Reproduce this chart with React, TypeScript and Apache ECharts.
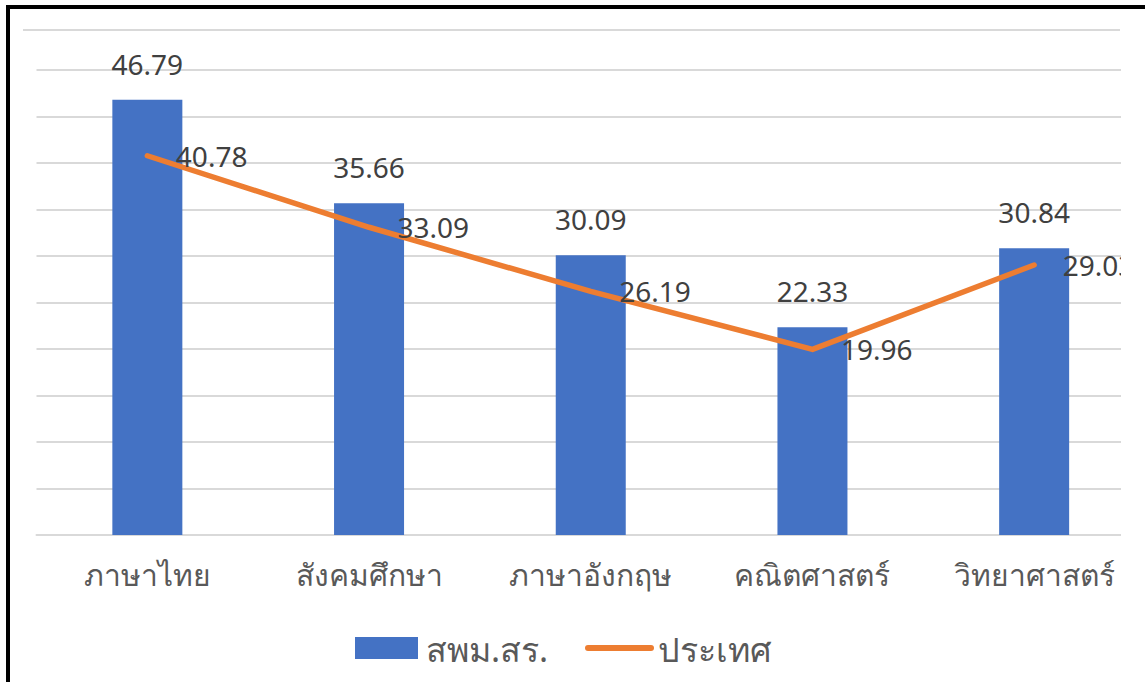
import React, { useEffect, useRef } from "react";
import * as echarts from "echarts";

const categories = ["ภาษาไทย", "สังคมศึกษา", "ภาษาอังกฤษ", "คณิตศาสตร์", "วิทยาศาสตร์"];
const schoolValues = [46.79, 35.66, 30.09, 22.33, 30.84];
const countryValues = [40.78, 33.09, 26.19, 19.96, 29.03];
const seriesNames = ["สพม.สร.", "ประเทศ"];

const FONT = "'Noto Sans', 'DejaVu Sans', sans-serif";
const TXT = "#404040";
const BLUE = "#4472C4";
const ORANGE = "#ED7D31";

export default function App() {
  const ref = useRef<HTMLDivElement>(null);
  useEffect(() => {
    document.body.style.margin = "0";
    const chart = echarts.init(ref.current!, null, { renderer: "svg" });
    chart.setOption({
      animation: false,
      backgroundColor: "#ffffff",
      textStyle: { fontFamily: FONT },
      grid: { left: 36.5, top: 70, width: 1115, height: 465, containLabel: false },
      xAxis: {
        type: "category",
        data: categories,
        axisLine: { lineStyle: { color: "#d9d9d9", width: 2 } },
        axisTick: { show: false },
        axisLabel: { color: "#595959", fontSize: 30, margin: 24, fontFamily: FONT },
      },
      yAxis: {
        type: "value",
        min: 0,
        max: 50,
        interval: 5,
        axisLabel: { show: false },
        axisLine: { show: false },
        axisTick: { show: false },
        splitLine: { lineStyle: { color: "#d9d9d9", width: 2 } },
      },
      legend: { show: false },
      series: [
        {
          name: seriesNames[0],
          type: "bar",
          data: schoolValues,
          barWidth: 70,
          itemStyle: { color: BLUE },
          label: {
            show: true,
            position: "top",
            distance: 22,
            color: TXT,
            fontSize: 28,
            fontFamily: FONT,
          },
          z: 2,
        },
        {
          name: seriesNames[1],
          type: "line",
          data: countryValues,
          symbol: "circle",
          symbolSize: 1,
          showSymbol: true,
          lineStyle: { color: ORANGE, width: 5.5, cap: "round", join: "round" },
          itemStyle: { color: "rgba(0,0,0,0)", borderWidth: 0 },
          label: {
            show: true,
            position: "right",
            distance: 28,
            color: TXT,
            fontSize: 28,
            fontFamily: FONT,
          },
          z: 3,
        },
      ],
      graphic: [
        { type: "rect", z: 100, shape: { x: 1121, y: 12, width: 40, height: 600 }, style: { fill: "#ffffff" } },
        { type: "line", z: 1, shape: { x1: 23, y1: 30, x2: 1120, y2: 30 }, style: { stroke: "#d9d9d9", lineWidth: 2 } },
        { type: "rect", z: 101, shape: { x: 6, y: 5, width: 1145, height: 4 }, style: { fill: "#000000" } },
        { type: "rect", z: 101, shape: { x: 6, y: 5, width: 4, height: 690 }, style: { fill: "#000000" } },
        { type: "rect", z: 50, shape: { x: 355, y: 637, width: 63, height: 22 }, style: { fill: BLUE } },
        {
          type: "text", z: 50, x: 426, y: 649,
          style: { text: seriesNames[0], fill: "#595959", font: `34px ${FONT}`, verticalAlign: "middle", align: "left" },
        },
        {
          type: "line", z: 50, shape: { x1: 588, y1: 648, x2: 651, y2: 648 },
          style: { stroke: ORANGE, lineWidth: 6, lineCap: "round" },
        },
        {
          type: "text", z: 50, x: 658, y: 649,
          style: { text: seriesNames[1], fill: "#595959", font: `34px ${FONT}`, verticalAlign: "middle", align: "left" },
        },
      ],
    });
    return () => chart.dispose();
  }, []);
  return <div ref={ref} style={{ width: 1145, height: 682 }} />;
}
